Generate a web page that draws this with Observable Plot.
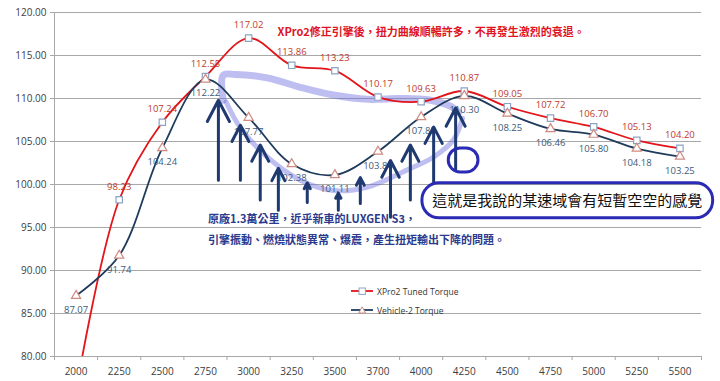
<!DOCTYPE html>
<html><head><meta charset="utf-8">
<script src="https://cdn.jsdelivr.net/npm/d3@7"></script>
<script src="https://cdn.jsdelivr.net/npm/@observablehq/plot@0.6"></script>
<style>
body{margin:0;background:#fff;}
#wrap{position:relative;width:720px;height:381px;overflow:hidden;}
.leg{position:absolute;left:351px;font:8.5px "Open Sans",sans-serif;color:#333;display:flex;align-items:center;gap:3px;height:12px;}
</style></head><body><div id="wrap"></div>
<script>
const categories = ["2000","2250","2500","2750","3000","3250","3500","3700","4000","4250","4500","4750","5000","5250","5500"];
const xpro2 = [76, 98.23, 107.24, 112.55, 117.02, 113.86, 113.23, 110.17, 109.63, 110.87, 109.05, 107.72, 106.70, 105.13, 104.20];
const vehicle2 = [87.07, 91.74, 104.24, 112.22, 107.77, 102.38, 101.11, 103.84, 107.85, 110.30, 108.25, 106.46, 105.80, 104.18, 103.25];
const yTicks = [80, 85, 90, 95, 100, 105, 110, 115, 120];
const seriesNames = ["XPro2 Tuned Torque", "Vehicle-2 Torque"];
const noteTop = "XPro2修正引擎後，扭力曲線順暢許多，不再發生激烈的衰退。";
const noteMid = ["原廠1.3萬公里，近乎新車的LUXGEN S3，", "引擎振動、燃燒狀態異常、爆震，產生扭矩輸出下降的問題。"];
const noteBox = "這就是我說的某速域會有短暫空空的感覺";
// hand-drawn annotations, in data units (category index, torque)
const arrowX = [3.30, 3.81, 4.27, 4.69, 5.36, 6.08, 6.59, 7.29, 7.75, 8.29, 8.80];
const arrowFrom = [100.5, 100.5, 98.2, 97.0, 97.9, 97.0, 97.8, 96.2, 98.2, 100.2, 101.7];
const arrowTo = [109.8, 106.9, 104.6, 101.9, 100.2, 99.0, 100.8, 102.8, 104.6, 106.7, 108.9];
const upperX = [3.41, 3.41, 3.69, 4.43, 5.20, 5.97, 6.76, 7.52, 8.22, 8.68, 8.87];
const upperY = [109.8, 112.7, 112.8, 112.4, 111.3, 110.4, 109.9, 110.0, 109.8, 109.1, 108.4];
const lowerX = [3.48, 3.81, 4.43, 5.20, 5.97, 6.76, 7.68, 8.29, 8.75, 8.96];
const lowerY = [109.6, 106.6, 103.2, 100.5, 99.3, 99.7, 101.7, 103.2, 105.2, 107.7];
const boxX = [8.03, 14.77], boxY = [96.07, 100.15];
const loopX = [8.64, 9.33], loopY = [101.4, 104.2];

const rows = categories.map((c, i) => ({i, c, a: xpro2[i], b: vehicle2[i]}));
const arrows = arrowX.map((x, k) => ({x, from: arrowFrom[k], to: arrowTo[k]}));
const upper = upperX.map((x, k) => ({x, y: upperY[k]}));
const lower = lowerX.map((x, k) => ({x, y: lowerY[k]}));
const cjk = "'Noto Sans CJK TC', sans-serif";

const chart = Plot.plot({
  width: 720, height: 381,
  marginLeft: 54, marginRight: 19, marginTop: 12, marginBottom: 25,
  x: {type: "linear", domain: [-0.5, 14.5], axis: null},
  y: {domain: [80, 120], axis: null},
  style: {fontFamily: "'Open Sans', sans-serif", fontSize: "10px", background: "#fff", overflow: "visible"},
  marks: [
    Plot.ruleY(yTicks, {stroke: "#a8a8a8", strokeWidth: 1}),
    Plot.ruleX([-0.5], {stroke: "#a8a8a8"}),
    Plot.axisY({ticks: yTicks, tickFormat: d => d.toFixed(2), tickSize: 4, tickPadding: 4, stroke: "#a8a8a8", fill: "#404040", label: null}),
    Plot.axisX({ticks: d3.range(15), tickSize: 0, tickPadding: 11, tickFormat: i => categories[i], fill: "#404040", label: null}),
    Plot.axisX({ticks: d3.range(16).map(i => i - 0.5), tickSize: 4, tickFormat: () => "", stroke: "#a8a8a8", label: null}),
    // hand-drawn lavender highlight
    Plot.line(upper, {x: "x", y: "y", curve: "catmull-rom", stroke: "#6f6fe0", strokeOpacity: 0.45, strokeWidth: 7}),
    Plot.line(lower, {x: "x", y: "y", curve: "catmull-rom", stroke: "#6f6fe0", strokeOpacity: 0.45, strokeWidth: 5}),
    // series
    Plot.line(rows, {x: "i", y: "a", curve: "catmull-rom", stroke: "#e3151b", strokeWidth: 1.8, clip: true}),
    Plot.line(rows, {x: "i", y: "b", curve: "catmull-rom", stroke: "#1f3b5c", strokeWidth: 1.8, clip: true}),
    Plot.dot(rows.filter(d => d.a >= 80), {x: "i", y: "a", symbol: "square", r: 3.6, fill: "#fff", stroke: "#8da3c4", strokeWidth: 1.2}),
    Plot.dot(rows, {x: "i", y: "b", symbol: "triangle", r: 3.4, fill: "#fff", stroke: "#d08a80", strokeWidth: 1.2}),
    Plot.text(rows.filter(d => d.a >= 80), {x: "i", y: "a", text: d => d.a.toFixed(2), dy: -13, fill: "#c0392b", fontSize: 9.5}),
    Plot.text(rows, {x: "i", y: "b", text: d => d.b.toFixed(2), dy: 14, fill: "#3d5a78", fontSize: 9.5}),
    // arrows
    Plot.arrow(arrows, {x1: "x", x2: "x", y1: "from", y2: "to", stroke: "#1e3a70", strokeWidth: 3, headLength: 12, headAngle: 55}),
    // ellipse boxes
    Plot.rect([0], {x1: boxX[0], x2: boxX[1], y1: boxY[0], y2: boxY[1], rx: 17, stroke: "#2a2ab4", strokeWidth: 3, fill: "none"}),
    Plot.rect([0], {x1: loopX[0], x2: loopX[1], y1: loopY[0], y2: loopY[1], rx: 12, stroke: "#2a2ab4", strokeWidth: 3, fill: "none"}),
    // notes
    Plot.text([noteTop], {x: 4.67, y: 117.7, text: d => d, textAnchor: "start", fill: "#e0141e", fontWeight: "bold", fontSize: 11, fontFamily: cjk}),
    Plot.text([noteMid[0]], {x: 3.06, y: 95.95, text: d => d, textAnchor: "start", fill: "#2b3a8c", fontWeight: "bold", fontSize: 11, fontFamily: cjk}),
    Plot.text([noteMid[1]], {x: 3.06, y: 93.5, text: d => d, textAnchor: "start", fill: "#2b3a8c", fontWeight: "bold", fontSize: 11, fontFamily: cjk}),
    Plot.text([noteBox], {x: 8.26, y: 98.1, text: d => d, textAnchor: "start", fill: "#111", fontSize: 15, fontFamily: cjk})
  ]
});
const wrap = document.getElementById("wrap");
wrap.appendChild(chart);
const legSpecs = [
  {name: seriesNames[0], stroke: "#e3151b", mk: '<rect x="8" y="2" width="6.4" height="6.4" fill="#fff" stroke="#8da3c4"/>', top: 285},
  {name: seriesNames[1], stroke: "#1f3b5c", mk: '<path d="M11.2,1.8L14.6,8L7.8,8Z" fill="#fff" stroke="#d08a80"/>', top: 304}
];
for (const s of legSpecs) {
  const d = document.createElement("div");
  d.className = "leg";
  d.style.top = s.top + "px";
  d.innerHTML = `<svg width="23" height="10"><line x1="0" y1="5" x2="22" y2="5" stroke="${s.stroke}" stroke-width="1.8"/>${s.mk}</svg><span>${s.name}</span>`;
  wrap.appendChild(d);
}
</script></body></html>
